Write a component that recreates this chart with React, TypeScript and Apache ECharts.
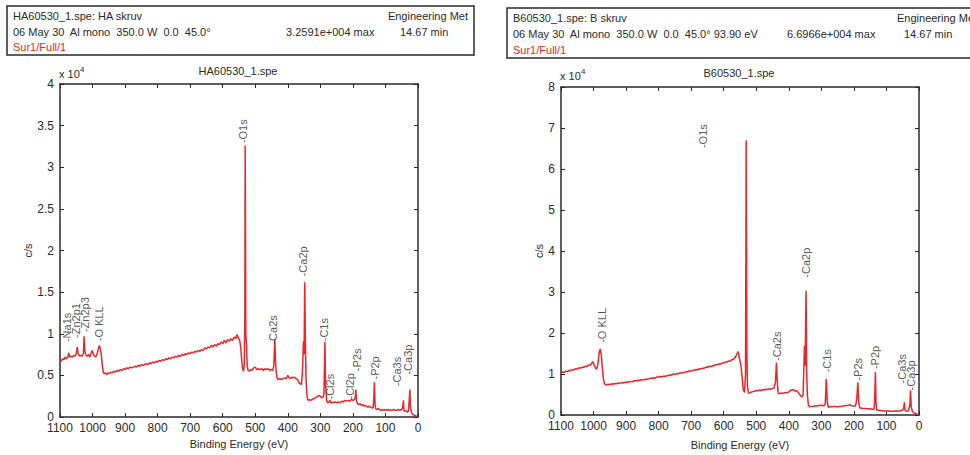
import React, { useEffect, useRef } from "react";
import * as echarts from "echarts";

const FONT = "'Liberation Sans', Arial, sans-serif";
const RED = "#e8262c";
const INK = "#2a2a2a";

// Binding energy tick labels (eV)
const xTicks = [1100, 1000, 900, 800, 700, 600, 500, 400, 300, 200, 100, 0];
const yTicksLeft = [0, 0.5, 1, 1.5, 2, 2.5, 3, 3.5, 4];
const yTicksRight = [0, 1, 2, 3, 4, 5, 6, 7, 8];

// HA60530_1.spe spectrum: [binding energy eV, c/s x 10^4]
const haSpectrum: [number, number][] = [
  [1100, 0.69], [1096, 0.67], [1092, 0.70], [1088, 0.69], [1084, 0.72], [1080, 0.70], [1076, 0.72], [1073, 0.77], [1070, 0.72],
  [1066, 0.73], [1062, 0.72], [1058, 0.74], [1054, 0.73], [1050, 0.76], [1047, 0.84], [1044, 0.76], [1040, 0.73], [1036, 0.74],
  [1032, 0.73], [1028, 0.76], [1026, 0.97], [1024, 0.80], [1020, 0.74], [1016, 0.73], [1012, 0.75], [1008, 0.72], [1004, 0.77],
  [1001, 0.80], [998, 0.76], [994, 0.73], [990, 0.72], [986, 0.76], [982, 0.82], [979, 0.86], [976, 0.82], [973, 0.74], [970, 0.62],
  [967, 0.54], [964, 0.52], [960, 0.53], [956, 0.51], [952, 0.53], [948, 0.52], [944, 0.54], [940, 0.53], [935, 0.55], [930, 0.54],
  [925, 0.56], [920, 0.55], [915, 0.57], [910, 0.56], [905, 0.58], [900, 0.57], [895, 0.59], [890, 0.58], [885, 0.60], [880, 0.59],
  [875, 0.60], [870, 0.61], [865, 0.60], [860, 0.62], [855, 0.61], [850, 0.63], [845, 0.62], [840, 0.63], [835, 0.64], [830, 0.63],
  [825, 0.65], [820, 0.64], [815, 0.66], [810, 0.65], [805, 0.67], [800, 0.66], [795, 0.68], [790, 0.67], [785, 0.69], [780, 0.68],
  [775, 0.70], [770, 0.69], [765, 0.71], [760, 0.70], [755, 0.72], [750, 0.71], [745, 0.73], [740, 0.72], [735, 0.74], [730, 0.73],
  [725, 0.75], [720, 0.74], [715, 0.76], [710, 0.75], [705, 0.77], [700, 0.76], [695, 0.78], [690, 0.77], [685, 0.79], [680, 0.78],
  [675, 0.80], [670, 0.79], [665, 0.81], [660, 0.80], [655, 0.83], [650, 0.82], [645, 0.84], [640, 0.83], [635, 0.86], [630, 0.84],
  [625, 0.87], [620, 0.85], [615, 0.88], [610, 0.87], [605, 0.90], [600, 0.88], [595, 0.92], [590, 0.89], [585, 0.93], [580, 0.91],
  [575, 0.94], [570, 0.92], [565, 0.96], [560, 0.94], [556, 0.99], [552, 0.95], [548, 0.92], [545, 0.85], [542, 0.70], [539, 0.58],
  [536, 0.55], [534, 0.62], [532, 1.20], [531, 3.26], [530, 2.20], [529, 1.00], [528, 0.92], [527, 0.88], [525, 0.62], [522, 0.56],
  [518, 0.55], [514, 0.57], [510, 0.56], [505, 0.59], [500, 0.60], [495, 0.57], [490, 0.58], [485, 0.57], [480, 0.58], [475, 0.56],
  [470, 0.58], [465, 0.57], [460, 0.58], [455, 0.56], [450, 0.57], [446, 0.56], [443, 0.62], [440, 0.93], [438, 0.70], [436, 0.55],
  [433, 0.47], [430, 0.45], [425, 0.46], [420, 0.45], [415, 0.46], [410, 0.47], [405, 0.46], [400, 0.50], [396, 0.47], [392, 0.46],
  [388, 0.48], [384, 0.47], [380, 0.48], [375, 0.46], [370, 0.45], [366, 0.42], [362, 0.40], [358, 0.39], [355, 0.55], [352, 0.91],
  [350, 0.75], [348, 1.62], [346, 0.95], [344, 0.45], [341, 0.25], [338, 0.20], [334, 0.21], [330, 0.20], [325, 0.21], [320, 0.22],
  [315, 0.23], [310, 0.24], [305, 0.26], [300, 0.25], [296, 0.23], [292, 0.24], [289, 0.28], [286, 0.90], [284, 0.40], [281, 0.20],
  [278, 0.17], [274, 0.18], [271, 0.20], [268, 0.17], [264, 0.18], [260, 0.17], [255, 0.18], [250, 0.17], [245, 0.18], [240, 0.17],
  [235, 0.19], [230, 0.18], [225, 0.20], [220, 0.19], [215, 0.20], [210, 0.19], [205, 0.21], [200, 0.20], [196, 0.21], [193, 0.23],
  [191, 0.33], [189, 0.20], [186, 0.16], [182, 0.15], [178, 0.16], [174, 0.14], [170, 0.15], [166, 0.13], [162, 0.14], [158, 0.13],
  [154, 0.12], [150, 0.13], [146, 0.12], [142, 0.11], [138, 0.11], [136, 0.20], [134, 0.42], [132, 0.15], [130, 0.10], [126, 0.09],
  [122, 0.10], [118, 0.09], [114, 0.08], [110, 0.09], [105, 0.08], [100, 0.09], [95, 0.08], [90, 0.09], [85, 0.08], [80, 0.08],
  [75, 0.09], [70, 0.08], [65, 0.08], [60, 0.09], [55, 0.08], [50, 0.09], [47, 0.12], [45, 0.20], [43, 0.08], [40, 0.07], [36, 0.07],
  [32, 0.06], [29, 0.08], [27, 0.20], [25, 0.33], [23, 0.12], [20, 0.05], [15, 0.03], [10, 0.02], [5, 0.01], [0, 0.01],
];

// HA peak labels: [binding energy, c/s x 10^4, name]
const haPeaks: [number, number, string][] = [
  [1079, 0.90, "Na1s"], [1051, 0.95, "Zn2p1"], [1023, 1.02, "Zn2p3"], [980, 0.91, "O KLL"],
  [538, 3.29, "O1s"], [445, 0.87, "Ca2s"], [354, 1.69, "Ca2p"], [289, 0.91, "C1s"],
  [270, 0.21, "Cl2s"], [209, 0.21, "Cl2p"], [187, 0.55, "P2s"], [133, 0.45, "P2p"],
  [65, 0.37, "Ca3s"], [30, 0.51, "Ca3p"],
];

// B60530_1.spe spectrum: [binding energy eV, c/s x 10^4]
const bSpectrum: [number, number][] = [
  [1100, 1.03], [1095, 1.05], [1090, 1.04], [1085, 1.07], [1080, 1.06], [1075, 1.09], [1070, 1.08], [1065, 1.11], [1060, 1.10],
  [1055, 1.13], [1050, 1.12], [1045, 1.15], [1040, 1.14], [1035, 1.17], [1030, 1.16], [1025, 1.19], [1020, 1.18], [1015, 1.22],
  [1010, 1.21], [1006, 1.26], [1002, 1.30], [998, 1.22], [994, 1.14], [991, 1.12], [988, 1.18], [985, 1.35], [982, 1.55], [979, 1.61],
  [976, 1.45], [973, 1.15], [970, 0.90], [967, 0.77], [963, 0.74], [960, 0.73], [955, 0.75], [950, 0.74], [945, 0.76], [940, 0.75],
  [935, 0.77], [930, 0.76], [925, 0.78], [920, 0.77], [915, 0.79], [910, 0.78], [905, 0.80], [900, 0.79], [895, 0.81], [890, 0.80],
  [885, 0.82], [880, 0.81], [875, 0.84], [870, 0.83], [865, 0.85], [860, 0.84], [855, 0.86], [850, 0.85], [845, 0.87], [840, 0.86],
  [835, 0.88], [830, 0.88], [825, 0.90], [820, 0.89], [815, 0.91], [810, 0.90], [805, 0.93], [800, 0.92], [795, 0.94], [790, 0.93],
  [785, 0.95], [780, 0.94], [775, 0.96], [770, 0.96], [765, 0.98], [760, 0.97], [755, 1.00], [750, 0.99], [745, 1.01], [740, 1.00],
  [735, 1.03], [730, 1.02], [725, 1.04], [720, 1.03], [715, 1.06], [710, 1.05], [705, 1.08], [700, 1.07], [695, 1.09], [690, 1.09],
  [685, 1.11], [680, 1.10], [675, 1.13], [670, 1.12], [665, 1.14], [660, 1.14], [655, 1.17], [650, 1.16], [645, 1.19], [640, 1.18],
  [635, 1.20], [630, 1.20], [625, 1.23], [620, 1.22], [615, 1.25], [610, 1.24], [605, 1.27], [600, 1.27], [595, 1.29], [590, 1.29],
  [585, 1.32], [580, 1.31], [575, 1.35], [570, 1.36], [565, 1.40], [560, 1.48], [556, 1.55], [553, 1.42], [548, 1.25], [545, 1.05],
  [543, 0.88], [540, 0.62], [536, 0.55], [533, 1.00], [531, 6.70], [529, 1.60], [527, 0.70], [524, 0.53], [520, 0.54], [515, 0.56],
  [510, 0.57], [505, 0.58], [500, 0.60], [495, 0.59], [490, 0.61], [485, 0.60], [480, 0.62], [475, 0.61], [470, 0.63], [465, 0.62],
  [460, 0.64], [455, 0.63], [450, 0.65], [445, 0.66], [441, 0.80], [438, 1.28], [436, 0.90], [433, 0.55], [430, 0.52], [425, 0.53],
  [420, 0.53], [415, 0.54], [410, 0.54], [405, 0.55], [400, 0.56], [395, 0.60], [390, 0.61], [386, 0.62], [380, 0.58], [376, 0.59],
  [372, 0.56], [368, 0.52], [365, 0.48], [360, 0.44], [356, 0.50], [352, 1.68], [350, 1.20], [347, 3.03], [345, 1.00], [343, 0.50],
  [340, 0.25], [336, 0.20], [330, 0.21], [325, 0.21], [320, 0.22], [315, 0.22], [310, 0.23], [305, 0.23], [300, 0.24], [296, 0.23],
  [292, 0.22], [288, 0.28], [285, 0.88], [282, 0.35], [279, 0.19], [275, 0.20], [270, 0.20], [265, 0.21], [260, 0.21], [255, 0.20],
  [250, 0.20], [245, 0.21], [240, 0.21], [235, 0.22], [230, 0.22], [225, 0.23], [220, 0.23], [215, 0.24], [212, 0.25], [208, 0.23],
  [205, 0.22], [200, 0.22], [195, 0.22], [191, 0.40], [188, 0.80], [185, 0.30], [182, 0.17], [178, 0.17], [175, 0.16], [170, 0.16],
  [165, 0.16], [160, 0.15], [155, 0.15], [150, 0.15], [145, 0.14], [140, 0.14], [138, 0.15], [136, 0.40], [134, 1.05], [132, 0.30],
  [130, 0.12], [125, 0.12], [120, 0.11], [115, 0.11], [110, 0.10], [105, 0.10], [100, 0.10], [95, 0.10], [90, 0.09], [85, 0.09],
  [80, 0.09], [75, 0.10], [70, 0.10], [65, 0.10], [60, 0.10], [55, 0.11], [50, 0.12], [47, 0.16], [45, 0.31], [43, 0.12], [40, 0.10],
  [36, 0.09], [32, 0.10], [28, 0.25], [26, 0.60], [24, 0.20], [20, 0.08], [15, 0.05], [10, 0.04], [5, 0.02], [0, 0.01],
];

// B peak labels: [binding energy, c/s x 10^4, name]
const bPeaks: [number, number, string][] = [
  [975, 1.76, "O KLL"], [664, 6.51, "O1s"], [436, 1.32, "Ca2s"], [346, 3.35, "Ca2p"], [283, 1.04, "C1s"],
  [186, 0.84, "P2s"], [135, 1.12, "P2p"], [53, 0.77, "Ca3s"], [24, 0.60, "Ca3p"],
];

const xAxisBase = (gridIndex: number, top: boolean, name?: string, nameGap?: number) => ({
  type: "value",
  gridIndex,
  position: top ? "top" : "bottom",
  min: xTicks[xTicks.length - 1],
  max: xTicks[0],
  interval: 100,
  inverse: true,
  name: name,
  nameLocation: "middle",
  nameGap: nameGap,
  nameTextStyle: { color: INK, fontSize: 11, fontFamily: FONT },
  axisLine: { show: true, onZero: false, lineStyle: { color: INK, width: 1.5 } },
  axisTick: { show: true, inside: true, length: 4, lineStyle: { color: INK, width: 1 } },
  axisLabel: {
    show: !top,
    color: INK,
    fontSize: 12,
    fontFamily: FONT,
    margin: 5,
    showMinLabel: true,
    showMaxLabel: true,
    formatter: (v: number) => String(v),
  },
  splitLine: { show: false },
});

const yAxisBase = (gridIndex: number, right: boolean, ticks: number[], nameGap?: number) => ({
  type: "value",
  gridIndex,
  position: right ? "right" : "left",
  min: ticks[0],
  max: ticks[ticks.length - 1],
  interval: ticks[1] - ticks[0],
  name: right ? undefined : "c/s",
  nameLocation: "middle",
  nameGap: nameGap,
  nameTextStyle: { color: INK, fontSize: 11, fontFamily: FONT },
  axisLine: { show: true, onZero: false, lineStyle: { color: INK, width: 1.5 } },
  axisTick: { show: true, inside: true, length: 4, lineStyle: { color: INK, width: 1 } },
  axisLabel: { show: !right, color: INK, fontSize: 12, fontFamily: FONT, margin: 6, formatter: (v: number) => String(v) },
  splitLine: { show: false },
});

const peakSeries = (xi: number, yi: number, peaks: [number, number, string][]) => ({
  type: "scatter",
  xAxisIndex: xi,
  yAxisIndex: yi,
  symbol: "circle",
  symbolSize: 1,
  itemStyle: { color: "rgba(0,0,0,0)" },
  silent: true,
  z: 5,
  labelLayout: { hideOverlap: false },
  data: peaks.map((p) => ({ value: [p[0], p[1]], name: p[2] })),
  label: {
    show: true,
    position: "inside",
    rotate: 90,
    align: "left",
    verticalAlign: "middle",
    color: INK,
    fontSize: 11,
    fontFamily: FONT,
    formatter: (p: any) => "-" + p.name,
  },
});

const headerText = (x: number, y: number, text: string, color = INK, align = "left") => ({
  type: "text",
  x,
  y,
  style: { text, fill: color, fontSize: 11, fontFamily: FONT, textAlign: align, textVerticalAlign: "middle" },
});

export default function App() {
  const ref = useRef<HTMLDivElement>(null);
  useEffect(() => {
    if (!ref.current) return;
    const chart = echarts.init(ref.current, null, { renderer: "svg" });
    chart.setOption({
      animation: false,
      backgroundColor: "#ffffff",
      grid: [
        { left: 60, top: 84, width: 358, height: 333 },
        { left: 561, top: 87, width: 358, height: 333.5 },
      ],
      xAxis: [
        xAxisBase(0, false, "Binding Energy (eV)", 20),
        xAxisBase(0, true),
        xAxisBase(1, false, "Binding Energy (eV)", 24),
        xAxisBase(1, true),
      ],
      yAxis: [
        yAxisBase(0, false, yTicksLeft, 25),
        yAxisBase(0, true, yTicksLeft),
        yAxisBase(1, false, yTicksRight, 17),
        yAxisBase(1, true, yTicksRight),
      ],
      series: [
        {
          type: "line",
          xAxisIndex: 0,
          yAxisIndex: 0,
          data: haSpectrum,
          showSymbol: false,
          symbol: "none",
          lineStyle: { color: RED, width: 1.5 },
          silent: true,
        },
        peakSeries(0, 0, haPeaks),
        {
          type: "line",
          xAxisIndex: 2,
          yAxisIndex: 2,
          data: bSpectrum,
          showSymbol: false,
          symbol: "none",
          lineStyle: { color: RED, width: 1.5 },
          silent: true,
        },
        peakSeries(2, 2, bPeaks),
      ],
      graphic: [
        { type: "rect", shape: { x: 7, y: 6, width: 467, height: 49 }, style: { fill: "none", stroke: INK, lineWidth: 1.5 } },
        headerText(13, 16, "HA60530_1.spe: HA skruv"),
        headerText(13, 32, "06 May 30  Al mono  350.0 W  0.0  45.0°"),
        headerText(286, 32, "3.2591e+004 max"),
        headerText(400, 32, "14.67 min"),
        headerText(468, 16, "Engineering Met", INK, "right"),
        headerText(13, 47, "Sur1/Full/1", RED),
        { type: "rect", shape: { x: 507, y: 8, width: 480, height: 50 }, style: { fill: "none", stroke: INK, lineWidth: 1.5 } },
        headerText(513, 18, "B60530_1.spe: B skruv"),
        headerText(513, 34, "06 May 30  Al mono  350.0 W  0.0  45.0° 93.90 eV"),
        headerText(787, 34, "6.6966e+004 max"),
        headerText(904, 34, "14.67 min"),
        headerText(897, 18, "Engineering Met"),
        headerText(513, 50, "Sur1/Full/1", RED),
        headerText(238, 71, "HA60530_1.spe", INK, "center"),
        headerText(739, 73, "B60530_1.spe", INK, "center"),
        headerText(59, 74, "x 10"),
        { type: "text", x: 80, y: 69, style: { text: "4", fill: INK, fontSize: 8, fontFamily: FONT, textVerticalAlign: "middle" } },
        headerText(560, 76, "x 10"),
        { type: "text", x: 581, y: 71, style: { text: "4", fill: INK, fontSize: 8, fontFamily: FONT, textVerticalAlign: "middle" } },
      ],
    });
    return () => chart.dispose();
  }, []);
  return (
    <div
      ref={ref}
      style={{ position: "fixed", left: 0, top: 0, width: 970, height: 455, background: "#fff" }}
    />
  );
}
